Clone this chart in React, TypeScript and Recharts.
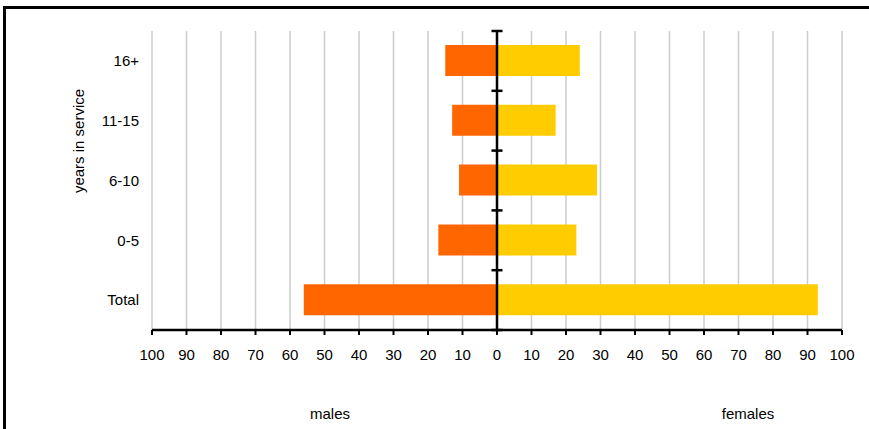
import React from 'react';
import {
  BarChart,
  Bar,
  XAxis,
  YAxis,
  CartesianGrid,
  ReferenceLine,
} from 'recharts';

const categories = ['16+', '11-15', '6-10', '0-5', 'Total'];
const males = [15, 13, 11, 17, 56];
const females = [24, 17, 29, 23, 93];
const xTicks = [-100, -90, -80, -70, -60, -50, -40, -30, -20, -10, 0, 10, 20, 30, 40, 50, 60, 70, 80, 90, 100];
const bandEdges = [0, 1, 2, 3, 4, 5];

const data = categories.map((c, i) => ({
  cat: c,
  pos: i + 0.5,
  males: -males[i],
  females: females[i],
}));

const FONT = '"Liberation Sans", Arial, sans-serif';

export default function App() {
  return (
    <div
      style={{
        position: 'absolute',
        left: 0,
        top: 0,
        width: 869,
        height: 429,
        overflow: 'hidden',
        background: '#fff',
        fontFamily: FONT,
      }}
    >
      <div
        style={{
          position: 'absolute',
          left: 3,
          top: 6,
          right: -10,
          bottom: -10,
          borderTop: '3px solid #000',
          borderLeft: '3px solid #000',
        }}
      />
      <div style={{ position: 'absolute', left: 0, top: 0 }}>
        <BarChart
          width={869}
          height={429}
          data={data}
          layout="vertical"
          stackOffset="sign"
          margin={{ top: 31, right: 27, bottom: 59, left: 0 }}
        >
          <CartesianGrid
            horizontal={false}
            vertical={true}
            stroke="#cccccc"
            strokeWidth={1.5}
            yAxisId="cat"
          />
          <XAxis
            type="number"
            domain={[-100, 100]}
            ticks={xTicks}
            interval={0}
            tickFormatter={(v: number) => String(Math.abs(v))}
            height={40}
            axisLine={{ stroke: '#000', strokeWidth: 2.5 }}
            tickLine={{ stroke: '#000', strokeWidth: 2 }}
            tickSize={5}
            tickMargin={14}
            tick={{ fill: '#000', fontSize: 15, fontFamily: FONT }}
          />
          <YAxis
            yAxisId="cat"
            type="category"
            dataKey="cat"
            width={152}
            axisLine={false}
            tickLine={false}
            tickSize={6}
            tickMargin={7}
            tick={{ fill: '#000', fontSize: 15, fontFamily: FONT }}
          />
          <YAxis
            yAxisId="idx"
            type="number"
            dataKey="pos"
            domain={[0, 5]}
            allowDataOverflow={true}
            reversed={false}
            hide
          />
          <Bar
            yAxisId="cat"
            dataKey="males"
            stackId="a"
            fill="#FF6600"
            barSize={31}
            isAnimationActive={false}
          />
          <Bar
            yAxisId="cat"
            dataKey="females"
            stackId="a"
            fill="#FFCC00"
            barSize={31}
            isAnimationActive={false}
          />
          <ReferenceLine yAxisId="cat" x={0} stroke="#000" strokeWidth={2.5} />
          {bandEdges.map((k) => (
            <ReferenceLine
              key={k}
              yAxisId="idx"
              ifOverflow="visible"
              segment={[
                { x: -1.6, y: k },
                { x: 1.6, y: k },
              ]}
              stroke="#000"
              strokeWidth={2.5}
            />
          ))}
        </BarChart>
      </div>
      <div
        style={{
          position: 'absolute',
          left: 78,
          top: 141,
          transform: 'translate(-50%, -50%) rotate(-90deg)',
          whiteSpace: 'nowrap',
          fontSize: 15,
          color: '#000',
        }}
      >
        years in service
      </div>
      <div
        style={{
          position: 'absolute',
          left: 330,
          top: 413,
          transform: 'translate(-50%, -50%)',
          whiteSpace: 'nowrap',
          fontSize: 15,
          color: '#000',
        }}
      >
        males
      </div>
      <div
        style={{
          position: 'absolute',
          left: 748,
          top: 413,
          transform: 'translate(-50%, -50%)',
          whiteSpace: 'nowrap',
          fontSize: 15,
          color: '#000',
        }}
      >
        females
      </div>
    </div>
  );
}
